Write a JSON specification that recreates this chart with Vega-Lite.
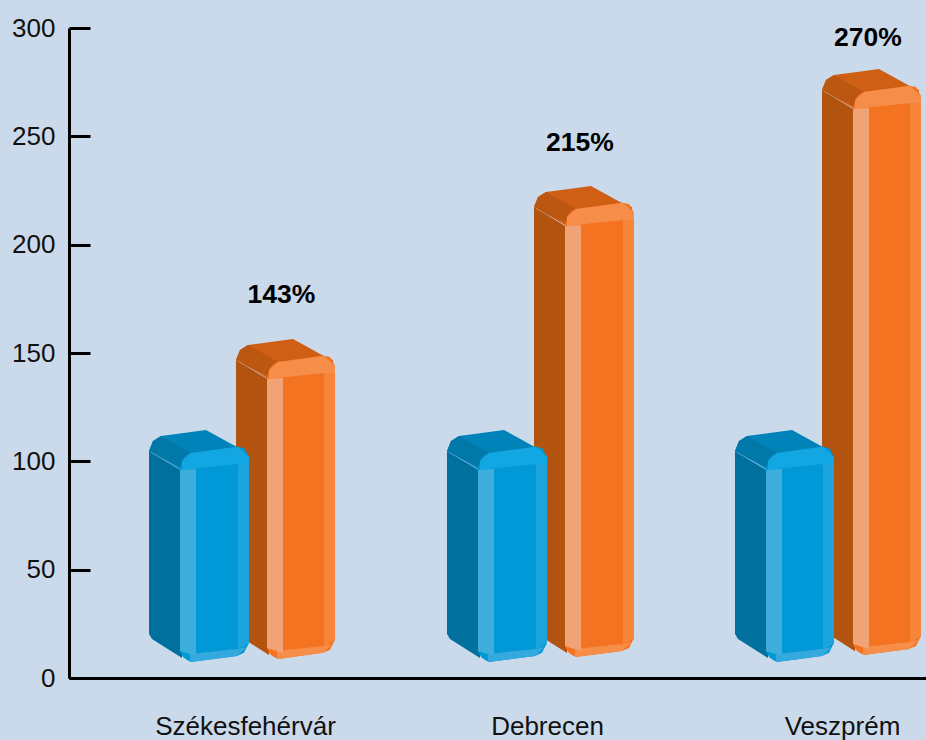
{"$schema":"https://vega.github.io/schema/vega-lite/v6.json","width":857,"height":650,"autosize":{"type":"none"},"padding":{"left":69,"top":28,"right":0,"bottom":62},"background":"#CBDAEB","config":{"view":{"stroke":null},"font":"Liberation Sans"},
"layer":[
{"data":{"values":[
{"g":"O1 side","p":"orange side","x":236,"y":146.8,"y2":21.7},{"g":"O1 side","p":"orange side","x":239,"y":145.9,"y2":19.4},{"g":"O1 side","p":"orange side","x":269,"y":137.6,"y2":10.6},
{"g":"O1 top","p":"orange top","x":236,"y":146.8,"y2":146.8},{"g":"O1 top","p":"orange top","x":240,"y":151.4,"y2":145.9},{"g":"O1 top","p":"orange top","x":248,"y":153.7,"y2":143.6},{"g":"O1 top","p":"orange top","x":267,"y":154.9,"y2":138.5},{"g":"O1 top","p":"orange top","x":293,"y":156.5,"y2":142.7},{"g":"O1 top","p":"orange top","x":322,"y":149.1,"y2":142.7},{"g":"O1 top","p":"orange top","x":333,"y":146.8,"y2":142.7},
{"g":"O1 curve","p":"orange curve","x":236,"y":146.8,"y2":146.8},{"g":"O1 curve","p":"orange curve","x":240,"y":151.4,"y2":145.9},{"g":"O1 curve","p":"orange curve","x":248,"y":153.7,"y2":143.6},{"g":"O1 curve","p":"orange curve","x":278,"y":145.9,"y2":137.6},
{"g":"O1 front","p":"orange front","x":267,"y":138.5,"y2":13.9},{"g":"O1 front","p":"orange front","x":270,"y":143.1,"y2":11.1},{"g":"O1 front","p":"orange front","x":274,"y":145,"y2":9.7},{"g":"O1 front","p":"orange front","x":278,"y":145.9,"y2":8.8},{"g":"O1 front","p":"orange front","x":323,"y":148.7,"y2":11.6},{"g":"O1 front","p":"orange front","x":330,"y":148.2,"y2":13},{"g":"O1 front","p":"orange front","x":335,"y":144,"y2":17.6},
{"g":"O1 tband","p":"orange tband","x":269,"y":142.2,"y2":137.6},{"g":"O1 tband","p":"orange tband","x":278,"y":145.9,"y2":138.5},{"g":"O1 tband","p":"orange tband","x":324,"y":148.7,"y2":140.8},{"g":"O1 tband","p":"orange tband","x":335,"y":144,"y2":140.8},
{"g":"O1 bband","p":"orange bband","x":277,"y":12.5,"y2":8.8},{"g":"O1 bband","p":"orange bband","x":323,"y":14.8,"y2":11.6},{"g":"O1 bband","p":"orange bband","x":333,"y":15.7,"y2":15.7},
{"g":"O1 lstrip","p":"orange lstrip","x":267,"y":138,"y2":13.9},{"g":"O1 lstrip","p":"orange lstrip","x":283,"y":138.5,"y2":11.6},
{"g":"O1 rstrip","p":"orange rstrip","x":324,"y":140.8,"y2":14.3},{"g":"O1 rstrip","p":"orange rstrip","x":335,"y":140.8,"y2":17.6},

{"g":"O2 side","p":"orange side","x":534,"y":217.4,"y2":22.6},{"g":"O2 side","p":"orange side","x":537,"y":216.5,"y2":20.3},{"g":"O2 side","p":"orange side","x":567,"y":208.2,"y2":11.5},
{"g":"O2 top","p":"orange top","x":534,"y":217.4,"y2":217.4},{"g":"O2 top","p":"orange top","x":538,"y":222,"y2":216.5},{"g":"O2 top","p":"orange top","x":546,"y":224.3,"y2":214.2},{"g":"O2 top","p":"orange top","x":565,"y":225.5,"y2":209.1},{"g":"O2 top","p":"orange top","x":591,"y":227.1,"y2":213.3},{"g":"O2 top","p":"orange top","x":620,"y":219.7,"y2":213.3},{"g":"O2 top","p":"orange top","x":632,"y":217.4,"y2":213.3},
{"g":"O2 curve","p":"orange curve","x":534,"y":217.4,"y2":217.4},{"g":"O2 curve","p":"orange curve","x":538,"y":222,"y2":216.5},{"g":"O2 curve","p":"orange curve","x":546,"y":224.3,"y2":214.2},{"g":"O2 curve","p":"orange curve","x":576,"y":216.5,"y2":208.2},
{"g":"O2 front","p":"orange front","x":565,"y":209.1,"y2":14.8},{"g":"O2 front","p":"orange front","x":568,"y":213.7,"y2":12},{"g":"O2 front","p":"orange front","x":572,"y":215.6,"y2":10.6},{"g":"O2 front","p":"orange front","x":576,"y":216.5,"y2":9.7},{"g":"O2 front","p":"orange front","x":622,"y":219.3,"y2":12.5},{"g":"O2 front","p":"orange front","x":629,"y":218.8,"y2":13.9},{"g":"O2 front","p":"orange front","x":634,"y":214.6,"y2":18.5},
{"g":"O2 tband","p":"orange tband","x":567,"y":212.8,"y2":208.2},{"g":"O2 tband","p":"orange tband","x":576,"y":216.5,"y2":209.1},{"g":"O2 tband","p":"orange tband","x":623,"y":219.3,"y2":211.4},{"g":"O2 tband","p":"orange tband","x":634,"y":214.6,"y2":211.4},
{"g":"O2 bband","p":"orange bband","x":575,"y":13.4,"y2":9.7},{"g":"O2 bband","p":"orange bband","x":622,"y":15.7,"y2":12.5},{"g":"O2 bband","p":"orange bband","x":632,"y":16.6,"y2":16.6},
{"g":"O2 lstrip","p":"orange lstrip","x":565,"y":208.6,"y2":14.8},{"g":"O2 lstrip","p":"orange lstrip","x":581,"y":209.1,"y2":12.5},
{"g":"O2 rstrip","p":"orange rstrip","x":623,"y":211.4,"y2":15.2},{"g":"O2 rstrip","p":"orange rstrip","x":634,"y":211.4,"y2":18.5},

{"g":"O3 side","p":"orange side","x":822,"y":271.4,"y2":23.5},{"g":"O3 side","p":"orange side","x":825,"y":270.5,"y2":21.2},{"g":"O3 side","p":"orange side","x":855,"y":262.2,"y2":12.4},
{"g":"O3 top","p":"orange top","x":822,"y":271.4,"y2":271.4},{"g":"O3 top","p":"orange top","x":826,"y":276,"y2":270.5},{"g":"O3 top","p":"orange top","x":834,"y":278.3,"y2":268.2},{"g":"O3 top","p":"orange top","x":853,"y":279.5,"y2":263.1},{"g":"O3 top","p":"orange top","x":879,"y":281.1,"y2":267.3},{"g":"O3 top","p":"orange top","x":908,"y":273.7,"y2":267.3},{"g":"O3 top","p":"orange top","x":919,"y":271.4,"y2":267.3},
{"g":"O3 curve","p":"orange curve","x":822,"y":271.4,"y2":271.4},{"g":"O3 curve","p":"orange curve","x":826,"y":276,"y2":270.5},{"g":"O3 curve","p":"orange curve","x":834,"y":278.3,"y2":268.2},{"g":"O3 curve","p":"orange curve","x":864,"y":270.5,"y2":262.2},
{"g":"O3 front","p":"orange front","x":853,"y":263.1,"y2":15.7},{"g":"O3 front","p":"orange front","x":856,"y":267.7,"y2":12.9},{"g":"O3 front","p":"orange front","x":860,"y":269.6,"y2":11.5},{"g":"O3 front","p":"orange front","x":864,"y":270.5,"y2":10.6},{"g":"O3 front","p":"orange front","x":909,"y":273.3,"y2":13.4},{"g":"O3 front","p":"orange front","x":916,"y":272.8,"y2":14.8},{"g":"O3 front","p":"orange front","x":921,"y":268.6,"y2":19.4},
{"g":"O3 tband","p":"orange tband","x":855,"y":266.8,"y2":262.2},{"g":"O3 tband","p":"orange tband","x":864,"y":270.5,"y2":263.1},{"g":"O3 tband","p":"orange tband","x":910,"y":273.3,"y2":265.4},{"g":"O3 tband","p":"orange tband","x":921,"y":268.6,"y2":265.4},
{"g":"O3 bband","p":"orange bband","x":863,"y":14.3,"y2":10.6},{"g":"O3 bband","p":"orange bband","x":909,"y":16.6,"y2":13.4},{"g":"O3 bband","p":"orange bband","x":919,"y":17.5,"y2":17.5},
{"g":"O3 lstrip","p":"orange lstrip","x":853,"y":262.6,"y2":15.7},{"g":"O3 lstrip","p":"orange lstrip","x":869,"y":263.1,"y2":13.4},
{"g":"O3 rstrip","p":"orange rstrip","x":910,"y":265.4,"y2":16.1},{"g":"O3 rstrip","p":"orange rstrip","x":921,"y":265.4,"y2":19.4},

{"g":"B1 side","p":"blue side","x":149,"y":104.8,"y2":20.3},{"g":"B1 side","p":"blue side","x":152,"y":103.9,"y2":18},{"g":"B1 side","p":"blue side","x":182,"y":95.6,"y2":9.2},
{"g":"B1 top","p":"blue top","x":149,"y":104.8,"y2":104.8},{"g":"B1 top","p":"blue top","x":153,"y":109.4,"y2":103.9},{"g":"B1 top","p":"blue top","x":161,"y":111.7,"y2":101.6},{"g":"B1 top","p":"blue top","x":180,"y":112.9,"y2":96.5},{"g":"B1 top","p":"blue top","x":206,"y":114.5,"y2":100.7},{"g":"B1 top","p":"blue top","x":235,"y":107.1,"y2":100.7},{"g":"B1 top","p":"blue top","x":246,"y":104.8,"y2":100.7},
{"g":"B1 curve","p":"blue curve","x":149,"y":104.8,"y2":104.8},{"g":"B1 curve","p":"blue curve","x":153,"y":109.4,"y2":103.9},{"g":"B1 curve","p":"blue curve","x":161,"y":111.7,"y2":101.6},{"g":"B1 curve","p":"blue curve","x":191,"y":103.9,"y2":95.6},
{"g":"B1 front","p":"blue front","x":180,"y":96.5,"y2":12.5},{"g":"B1 front","p":"blue front","x":183,"y":101.1,"y2":9.7},{"g":"B1 front","p":"blue front","x":187,"y":103,"y2":8.3},{"g":"B1 front","p":"blue front","x":191,"y":103.9,"y2":7.4},{"g":"B1 front","p":"blue front","x":237,"y":106.7,"y2":10.2},{"g":"B1 front","p":"blue front","x":244,"y":106.2,"y2":11.6},{"g":"B1 front","p":"blue front","x":249,"y":102,"y2":16.2},
{"g":"B1 tband","p":"blue tband","x":182,"y":100.2,"y2":95.6},{"g":"B1 tband","p":"blue tband","x":191,"y":103.9,"y2":96.5},{"g":"B1 tband","p":"blue tband","x":238,"y":106.7,"y2":98.8},{"g":"B1 tband","p":"blue tband","x":249,"y":102,"y2":98.8},
{"g":"B1 bband","p":"blue bband","x":190,"y":11.1,"y2":7.4},{"g":"B1 bband","p":"blue bband","x":237,"y":13.4,"y2":10.2},{"g":"B1 bband","p":"blue bband","x":247,"y":14.3,"y2":14.3},
{"g":"B1 lstrip","p":"blue lstrip","x":180,"y":96,"y2":12.5},{"g":"B1 lstrip","p":"blue lstrip","x":196,"y":96.5,"y2":10.2},
{"g":"B1 rstrip","p":"blue rstrip","x":238,"y":98.8,"y2":12.9},{"g":"B1 rstrip","p":"blue rstrip","x":249,"y":98.8,"y2":16.2},

{"g":"B2 side","p":"blue side","x":447,"y":104.8,"y2":20.3},{"g":"B2 side","p":"blue side","x":450,"y":103.9,"y2":18},{"g":"B2 side","p":"blue side","x":480,"y":95.6,"y2":9.2},
{"g":"B2 top","p":"blue top","x":447,"y":104.8,"y2":104.8},{"g":"B2 top","p":"blue top","x":451,"y":109.4,"y2":103.9},{"g":"B2 top","p":"blue top","x":459,"y":111.7,"y2":101.6},{"g":"B2 top","p":"blue top","x":478,"y":112.9,"y2":96.5},{"g":"B2 top","p":"blue top","x":504,"y":114.5,"y2":100.7},{"g":"B2 top","p":"blue top","x":533,"y":107.1,"y2":100.7},{"g":"B2 top","p":"blue top","x":544,"y":104.8,"y2":100.7},
{"g":"B2 curve","p":"blue curve","x":447,"y":104.8,"y2":104.8},{"g":"B2 curve","p":"blue curve","x":451,"y":109.4,"y2":103.9},{"g":"B2 curve","p":"blue curve","x":459,"y":111.7,"y2":101.6},{"g":"B2 curve","p":"blue curve","x":489,"y":103.9,"y2":95.6},
{"g":"B2 front","p":"blue front","x":478,"y":96.5,"y2":12.5},{"g":"B2 front","p":"blue front","x":481,"y":101.1,"y2":9.7},{"g":"B2 front","p":"blue front","x":485,"y":103,"y2":8.3},{"g":"B2 front","p":"blue front","x":489,"y":103.9,"y2":7.4},{"g":"B2 front","p":"blue front","x":535,"y":106.7,"y2":10.2},{"g":"B2 front","p":"blue front","x":542,"y":106.2,"y2":11.6},{"g":"B2 front","p":"blue front","x":547,"y":102,"y2":16.2},
{"g":"B2 tband","p":"blue tband","x":480,"y":100.2,"y2":95.6},{"g":"B2 tband","p":"blue tband","x":489,"y":103.9,"y2":96.5},{"g":"B2 tband","p":"blue tband","x":536,"y":106.7,"y2":98.8},{"g":"B2 tband","p":"blue tband","x":547,"y":102,"y2":98.8},
{"g":"B2 bband","p":"blue bband","x":488,"y":11.1,"y2":7.4},{"g":"B2 bband","p":"blue bband","x":535,"y":13.4,"y2":10.2},{"g":"B2 bband","p":"blue bband","x":545,"y":14.3,"y2":14.3},
{"g":"B2 lstrip","p":"blue lstrip","x":478,"y":96,"y2":12.5},{"g":"B2 lstrip","p":"blue lstrip","x":494,"y":96.5,"y2":10.2},
{"g":"B2 rstrip","p":"blue rstrip","x":536,"y":98.8,"y2":12.9},{"g":"B2 rstrip","p":"blue rstrip","x":547,"y":98.8,"y2":16.2},

{"g":"B3 side","p":"blue side","x":735,"y":104.8,"y2":20.3},{"g":"B3 side","p":"blue side","x":738,"y":103.9,"y2":18},{"g":"B3 side","p":"blue side","x":768,"y":95.6,"y2":9.2},
{"g":"B3 top","p":"blue top","x":735,"y":104.8,"y2":104.8},{"g":"B3 top","p":"blue top","x":739,"y":109.4,"y2":103.9},{"g":"B3 top","p":"blue top","x":747,"y":111.7,"y2":101.6},{"g":"B3 top","p":"blue top","x":766,"y":112.9,"y2":96.5},{"g":"B3 top","p":"blue top","x":792,"y":114.5,"y2":100.7},{"g":"B3 top","p":"blue top","x":821,"y":107.1,"y2":100.7},{"g":"B3 top","p":"blue top","x":832,"y":104.8,"y2":100.7},
{"g":"B3 curve","p":"blue curve","x":735,"y":104.8,"y2":104.8},{"g":"B3 curve","p":"blue curve","x":739,"y":109.4,"y2":103.9},{"g":"B3 curve","p":"blue curve","x":747,"y":111.7,"y2":101.6},{"g":"B3 curve","p":"blue curve","x":777,"y":103.9,"y2":95.6},
{"g":"B3 front","p":"blue front","x":766,"y":96.5,"y2":12.5},{"g":"B3 front","p":"blue front","x":769,"y":101.1,"y2":9.7},{"g":"B3 front","p":"blue front","x":773,"y":103,"y2":8.3},{"g":"B3 front","p":"blue front","x":777,"y":103.9,"y2":7.4},{"g":"B3 front","p":"blue front","x":822,"y":106.7,"y2":10.2},{"g":"B3 front","p":"blue front","x":829,"y":106.2,"y2":11.6},{"g":"B3 front","p":"blue front","x":834,"y":102,"y2":16.2},
{"g":"B3 tband","p":"blue tband","x":768,"y":100.2,"y2":95.6},{"g":"B3 tband","p":"blue tband","x":777,"y":103.9,"y2":96.5},{"g":"B3 tband","p":"blue tband","x":823,"y":106.7,"y2":98.8},{"g":"B3 tband","p":"blue tband","x":834,"y":102,"y2":98.8},
{"g":"B3 bband","p":"blue bband","x":776,"y":11.1,"y2":7.4},{"g":"B3 bband","p":"blue bband","x":822,"y":13.4,"y2":10.2},{"g":"B3 bband","p":"blue bband","x":832,"y":14.3,"y2":14.3},
{"g":"B3 lstrip","p":"blue lstrip","x":766,"y":96,"y2":12.5},{"g":"B3 lstrip","p":"blue lstrip","x":782,"y":96.5,"y2":10.2},
{"g":"B3 rstrip","p":"blue rstrip","x":823,"y":98.8,"y2":12.9},{"g":"B3 rstrip","p":"blue rstrip","x":834,"y":98.8,"y2":16.2}
]},
"mark":{"type":"area","opacity":1},
"encoding":{
"x":{"field":"x","type":"quantitative","scale":{"domain":[69,926],"nice":false,"zero":false},"axis":{"title":null,"grid":false,"ticks":false,"domainColor":"#000000","domainWidth":3,"values":[245,547,842],"labelExpr":"datum.value==245?'Székesfehérvár':datum.value==547?'Debrecen':'Veszprém'","labelFont":"Liberation Sans","labelFontSize":26,"labelColor":"#111111","labelPadding":35,"labelLimit":400,"labelFlush":false,"labelOverlap":false}},
"y":{"field":"y","type":"quantitative","scale":{"domain":[0,300],"nice":false},"axis":{"title":null,"grid":false,"values":[0,50,100,150,200,250,300],"tickSize":-21,"tickWidth":3,"tickColor":"#000000","domainColor":"#000000","domainWidth":3,"labelFont":"Liberation Sans","labelFontSize":26,"labelColor":"#111111","labelPadding":35}},
"y2":{"field":"y2"},
"detail":{"field":"g"},
"color":{"field":"p","type":"nominal","legend":null,"scale":{"domain":["orange side","orange top","orange curve","orange front","orange tband","orange bband","orange lstrip","orange rstrip","blue side","blue top","blue curve","blue front","blue tband","blue bband","blue lstrip","blue rstrip"],"range":["#B25310","#CE5F15","#BC5712","#F47320","#F68D48","#F68D48","#F2A376","#F6853A","#00709F","#0083B9","#0079A8","#0098D6","#12A6E2","#33A9DD","#3DAEDC","#1BA3DC"]}}
}},
{"data":{"values":[{"city":"Székesfehérvár","label":"143%","x":281.5,"y":177},{"city":"Debrecen","label":"215%","x":580,"y":247},{"city":"Veszprém","label":"270%","x":868,"y":295.4}]},
"mark":{"type":"text","font":"Liberation Sans","fontWeight":"bold","fontSize":26.5,"color":"#000000","align":"center","baseline":"middle"},
"encoding":{"x":{"field":"x","type":"quantitative"},"y":{"field":"y","type":"quantitative"},"text":{"field":"label"}}}
]}
